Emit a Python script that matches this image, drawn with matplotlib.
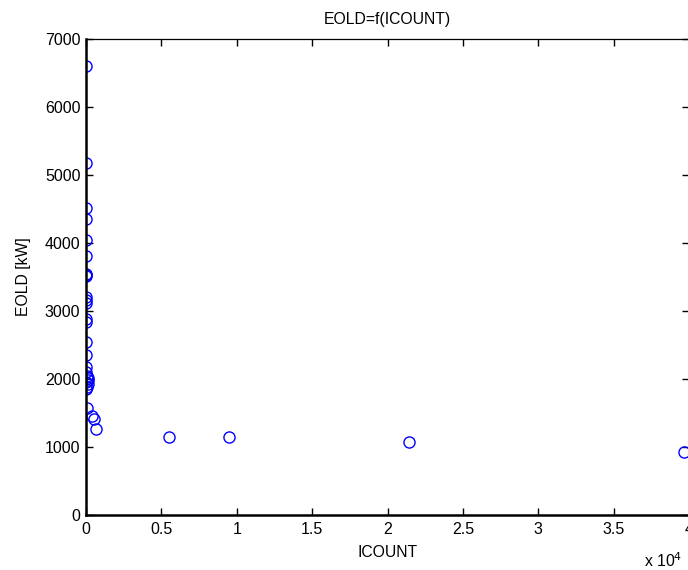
import matplotlib
matplotlib.use('Agg')
import matplotlib.pyplot as plt
import numpy as np

# ICOUNT / EOLD pairs
icount = [0, 0, 0, 0, 0, 0, 0, 0, 0, 0, 0, 0, 0, 0, 0, 0, 0, 0,
          50, 150, 100, 0, 120, 60, 30, 80, 400, 555, 690,
          5500, 9470, 21430, 39700]
eold = [6600, 5180, 4520, 4360, 4040, 3810, 3550, 3530, 3510, 3200, 3160, 3120,
        2880, 2840, 2550, 2350, 2170, 2100,
        2050, 2010, 1980, 1950, 1920, 1880, 1850, 1570, 1460, 1415, 1260,
        1140, 1140, 1080, 920]

x_ticks = [0, 5000, 10000, 15000, 20000, 25000, 30000, 35000, 40000]
y_ticks = [0, 1000, 2000, 3000, 4000, 5000, 6000, 7000]

plt.rcParams['font.family'] = ['Liberation Sans', 'DejaVu Sans']

fig = plt.figure(figsize=(6.88, 5.70), dpi=100)
ax = fig.add_axes([86 / 688, 55 / 570, 603 / 688, 476 / 570])

ax.plot(icount, eold, 'o', mfc='none', mec='#0000ff', ms=8, mew=1.0)

ax.set_xlim(0, 40000)
ax.set_ylim(0, 7000)
ax.set_xticks(x_ticks)
ax.set_xticklabels([f'{v / 1e4:g}' for v in x_ticks])
ax.set_yticks(y_ticks)

ax.tick_params(direction='in', length=5, width=1, top=True, right=True,
               labelsize=11.5, colors='black')
ax.tick_params(axis='x', pad=5)
ax.tick_params(axis='y', pad=4)
for side in ['left', 'bottom']:
    ax.spines[side].set_linewidth(1.8)
for side in ['top', 'right']:
    ax.spines[side].set_linewidth(0.9)

ax.set_title('EOLD=f(ICOUNT)', fontsize=11.3, pad=11)
ax.set_xlabel('ICOUNT', fontsize=11.3, labelpad=6)
ax.set_ylabel('EOLD [kW]', fontsize=11.3, labelpad=10)

fig.text(682 / 688, 1 - 567 / 570, r'x 10$^{4}$', fontsize=11.3, ha='right', va='baseline')

fig.savefig('out.png', dpi=100)
